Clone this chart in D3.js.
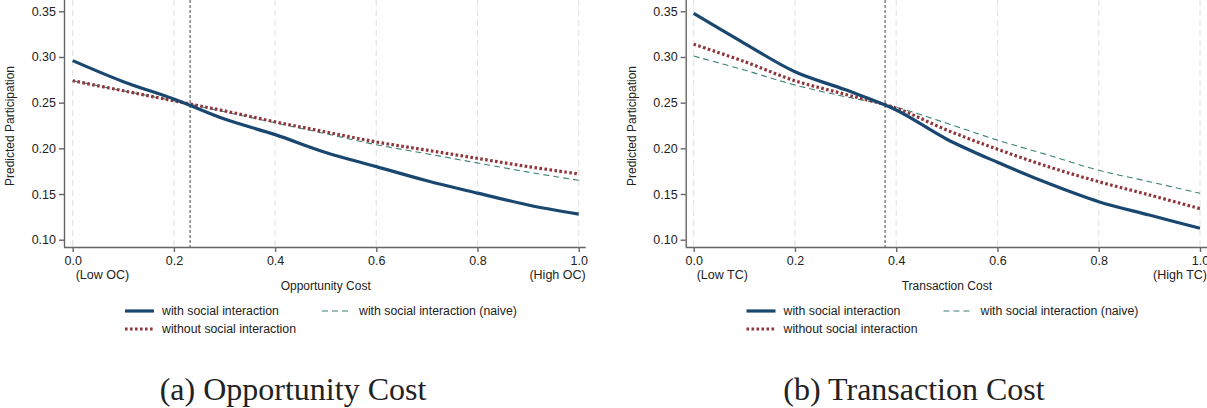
<!DOCTYPE html>
<html>
<head>
<meta charset="utf-8">
<script src="https://cdn.jsdelivr.net/npm/d3@7"></script>
<style>
  body { margin: 0; background: #fff; }
  svg text { font-family: "Liberation Sans", Arial, sans-serif; fill: #222; }
</style>
</head>
<body>
<div id="main"></div>
<script>
const W = 1207, H = 408;

// x grid of predicted values
const costLevels = [0, 0.1, 0.2, 0.3, 0.4, 0.5, 0.6, 0.7, 0.8, 0.9, 1.0];

// (a) opportunity cost
const ocWith    = [0.296, 0.273, 0.254, 0.232, 0.215, 0.1955, 0.180, 0.1645, 0.151, 0.138, 0.128];
const ocNaive   = [0.274, 0.263, 0.252, 0.240, 0.228, 0.216, 0.204, 0.194, 0.184, 0.174, 0.165];
const ocWithout = [0.274, 0.263, 0.252, 0.241, 0.229, 0.218, 0.207, 0.198, 0.189, 0.180, 0.172];
const ocMean = 0.232;

// (b) transaction cost
const tcWith    = [0.3477, 0.315, 0.2838, 0.264, 0.242, 0.210, 0.1847, 0.1617, 0.1416, 0.127, 0.1125];
const tcNaive   = [0.301, 0.2857, 0.2693, 0.2565, 0.245, 0.2274, 0.209, 0.1927, 0.176, 0.1635, 0.1508];
const tcWithout = [0.314, 0.295, 0.274, 0.259, 0.244, 0.220, 0.199, 0.180, 0.1635, 0.149, 0.134];
const tcMean = 0.378;

const xTicks = [0, 0.2, 0.4, 0.6, 0.8, 1.0];
const yTicks = [0.10, 0.15, 0.20, 0.25, 0.30, 0.35];
const seriesNames = ["with social interaction", "with social interaction (naive)", "without social interaction"];

const styles = {
  with:    { color: "#1a476f", width: 3.2, dash: null },
  naive:   { color: "#3b8274", width: 1.1, dash: "6,4" },
  without: { color: "#90353b", width: 3.2, dash: "2.6,2.4" }
};

const svg = d3.select("#main").append("svg")
  .attr("width", W).attr("height", H);

function drawPanel(p) {
  const g = svg.append("g");
  const x = d3.scaleLinear().domain([0, 1]).range([p.x0, p.x1]);
  const y = d3.scaleLinear().domain([0.10, 0.35]).range([239.7, 11.3]);
  const axisY = 247;

  // dashed vertical gridlines
  g.selectAll(".grid").data(xTicks).enter().append("line")
    .attr("x1", d => x(d)).attr("x2", d => x(d))
    .attr("y1", 0).attr("y2", axisY)
    .attr("stroke", "#e4e4e4").attr("stroke-width", 1.2)
    .attr("stroke-dasharray", "6,4");

  // reference line at mean
  g.append("line")
    .attr("x1", x(p.mean)).attr("x2", x(p.mean))
    .attr("y1", 0).attr("y2", axisY)
    .attr("stroke", "#444").attr("stroke-width", 1)
    .attr("stroke-dasharray", "3,2");

  // axes
  const xAxis = g.append("g").attr("transform", `translate(0,${axisY})`)
    .call(d3.axisBottom(x).tickValues(xTicks).tickFormat(d3.format(".1f")).tickSize(5).tickPadding(4));
  xAxis.select(".domain").attr("d", `M${p.axisLeft},0.5H${x(1) + 7}`);
  const yAxis = g.append("g").attr("transform", `translate(${p.axisLeft},0)`)
    .call(d3.axisLeft(y).tickValues(yTicks).tickFormat(d3.format(".2f")).tickSize(5).tickPadding(3));
  yAxis.select(".domain").attr("d", `M0.5,0V${axisY}`);
  [xAxis, yAxis].forEach(a => {
    a.selectAll("path, line").attr("stroke", "#666").attr("stroke-width", 1.4);
    a.selectAll("text").style("font-size", "12.5px").style("font-family", "Liberation Sans, Arial, sans-serif").attr("fill", "#222");
  });

  // end labels
  g.append("text").attr("x", x(0) + 3).attr("y", 279).style("font-size", "12.5px").text(p.lowLabel);
  g.append("text").attr("x", x(1) + 7).attr("y", 279).attr("text-anchor", "end").style("font-size", "12.5px").text(p.highLabel);

  // axis titles
  g.append("text").attr("x", (x(0) + x(1)) / 2).attr("y", 290).attr("text-anchor", "middle")
    .style("font-size", "12px").text(p.xTitle);
  g.append("text").attr("transform", `translate(${p.axisLeft - 50},126) rotate(-90)`)
    .attr("text-anchor", "middle").style("font-size", "12px").text("Predicted Participation");

  // lines
  const line = d3.line().x((d, i) => x(costLevels[i])).y(d => y(d)).curve(d3.curveCatmullRom);
  [[p.naive, styles.naive], [p.without, styles.without], [p.withSI, styles.with]].forEach(([vals, s]) => {
    g.append("path").datum(vals).attr("d", line)
      .attr("fill", "none").attr("stroke", s.color).attr("stroke-width", s.width)
      .attr("stroke-dasharray", s.dash);
  });

  // legend
  const lx = p.legendX;
  const items = [
    { s: styles.with, name: seriesNames[0], dx: 0, y: 311 },
    { s: styles.naive, name: seriesNames[1], dx: 197, y: 311 },
    { s: styles.without, name: seriesNames[2], dx: 0, y: 329 }
  ];
  items.forEach(it => {
    g.append("line").attr("x1", lx + it.dx).attr("x2", lx + it.dx + 29)
      .attr("y1", it.y).attr("y2", it.y)
      .attr("stroke", it.s.color).attr("stroke-width", it.s.width)
      .attr("stroke-dasharray", it.s.dash);
    g.append("text").attr("x", lx + it.dx + 37).attr("y", it.y + 4)
      .style("font-size", "12.3px").text(it.name);
  });

  // caption
  g.append("text").attr("x", p.captionX).attr("y", 400).attr("text-anchor", "middle")
    .style("font-family", "Liberation Serif, Times New Roman, serif").style("font-size", "32px")
    .attr("fill", "#111").text(p.caption);
}

drawPanel({
  x0: 72.7, x1: 578.7, axisLeft: 64, mean: ocMean,
  withSI: ocWith, naive: ocNaive, without: ocWithout,
  lowLabel: "(Low OC)", highLabel: "(High OC)", xTitle: "Opportunity Cost",
  legendX: 125, captionX: 293, caption: "(a) Opportunity Cost"
});
drawPanel({
  x0: 693.7, x1: 1200, axisLeft: 685.7, mean: tcMean,
  withSI: tcWith, naive: tcNaive, without: tcWithout,
  lowLabel: "(Low TC)", highLabel: "(High TC)", xTitle: "Transaction Cost",
  legendX: 746.5, captionX: 914, caption: "(b) Transaction Cost"
});
</script>
</body>
</html>
